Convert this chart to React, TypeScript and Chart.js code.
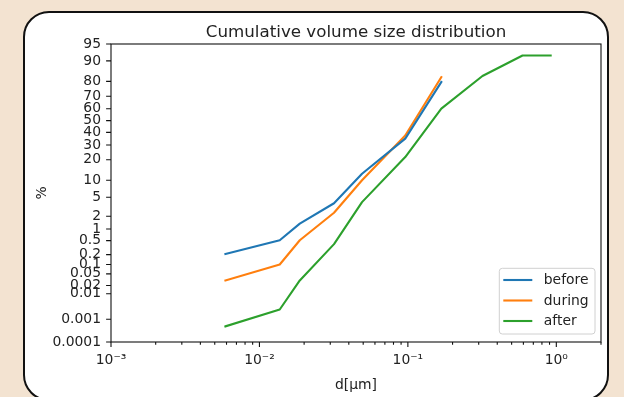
import React, { useEffect, useRef } from 'react';
import { Chart, registerables, Scale } from 'chart.js';

// ---------- data ----------
const SIZES_UM = [0.0059, 0.0137, 0.0187, 0.0318, 0.0491, 0.096, 0.168, 0.318, 0.592, 0.916];
const BEFORE = [0.21, 0.51, 1.35, 3.8, 12.7, 34.9, 79.6];
const DURING = [0.03, 0.1, 0.51, 2.4, 10.0, 37.5, 82.5];
const AFTER = [0.0005, 0.0025, 0.03, 0.4, 4.0, 21.7, 60.1, 83.1, 91.9, 91.9];
const SERIES_LABELS = ['before', 'during', 'after'];
const SERIES_COLORS = ['#1f77b4', '#ff7f0e', '#2ca02c'];

const Y_TICKS = [0.0001, 0.001, 0.01, 0.02, 0.05, 0.1, 0.2, 0.5, 1, 2, 5, 10, 20, 30, 40, 50, 60, 70, 80, 90, 95];
const X_MAJOR_TICKS = [0.001, 0.01, 0.1, 1];
const X_TICK_LABELS = ['10\u207B\u00B3', '10\u207B\u00B2', '10\u207B\u00B9', '10\u2070'];
const X_MIN = 0.001;
const X_MAX = 2;
const Y_MIN = 0.0001;
const Y_MAX = 95;

const TITLE = 'Cumulative volume size distribution';
const X_TITLE = 'd[\u03BCm]';
const Y_TITLE = '%';

// ---------- probit helpers ----------
function normInv(p: number): number {
  const a = [-3.969683028665376e1, 2.209460984245205e2, -2.759285104469687e2, 1.38357751867269e2, -3.066479806614716e1, 2.506628277459239];
  const b = [-5.447609879822406e1, 1.615858368580409e2, -1.556989798598866e2, 6.680131188771972e1, -1.328068155288572e1];
  const c = [-7.784894002430293e-3, -3.223964580411365e-1, -2.400758277161838, -2.549671348149059, 4.374664141464968, 2.938163982698783];
  const d = [7.784695709041462e-3, 3.224671290700398e-1, 2.445134137142996, 3.754408661907416];
  const pl = 0.02425;
  if (p <= 0) return -Infinity;
  if (p >= 1) return Infinity;
  if (p < pl) {
    const q = Math.sqrt(-2 * Math.log(p));
    return (((((c[0] * q + c[1]) * q + c[2]) * q + c[3]) * q + c[4]) * q + c[5]) / ((((d[0] * q + d[1]) * q + d[2]) * q + d[3]) * q + 1);
  }
  if (p <= 1 - pl) {
    const q = p - 0.5;
    const r = q * q;
    return ((((((a[0] * r + a[1]) * r + a[2]) * r + a[3]) * r + a[4]) * r + a[5]) * q) / (((((b[0] * r + b[1]) * r + b[2]) * r + b[3]) * r + b[4]) * r + 1);
  }
  const q = Math.sqrt(-2 * Math.log(1 - p));
  return -(((((c[0] * q + c[1]) * q + c[2]) * q + c[3]) * q + c[4]) * q + c[5]) / ((((d[0] * q + d[1]) * q + d[2]) * q + d[3]) * q + 1);
}
function normCdf(z: number): number {
  const t = 1 / (1 + 0.3275911 * Math.abs(z) / Math.SQRT2);
  const y = 1 - (((((1.061405429 * t - 1.453152027) * t) + 1.421413741) * t - 0.284496736) * t + 0.254829592) * t * Math.exp(-z * z / 2);
  return z >= 0 ? 0.5 * (1 + y) : 0.5 * (1 - y);
}

class ProbitScale extends Scale {
  static id = 'probit';
  static defaults = {};
  _pStart = 0;
  _pEnd = 1;
  determineDataLimits() {
    const mm = (this as any).getMinMax(true);
    const o = (this as any).options;
    (this as any).min = o.min ?? mm.min;
    (this as any).max = o.max ?? mm.max;
  }
  buildTicks() {
    return Y_TICKS.map((v) => ({ value: v }));
  }
  configure() {
    super.configure();
    this._pStart = normInv((this as any).min / 100);
    this._pEnd = normInv((this as any).max / 100);
  }
  getLabelForValue(v: number) {
    return String(v);
  }
  getPixelForValue(v: number) {
    if (v === undefined || v === null || isNaN(v)) return NaN;
    return (this as any).getPixelForDecimal((normInv(v / 100) - this._pStart) / (this._pEnd - this._pStart));
  }
  getValueForPixel(px: number) {
    const dec = (this as any).getDecimalForPixel(px);
    return 100 * normCdf(this._pStart + dec * (this._pEnd - this._pStart));
  }
}

Chart.register(...registerables, ProbitScale as any);

const FONT_FAMILY = '"DejaVu Sans", sans-serif';
const TEXT_COLOR = '#222';

function buildXTicks(): number[] {
  const out: number[] = [];
  X_MAJOR_TICKS.forEach((m) => {
    for (let k = 1; k <= 9; k++) {
      const v = parseFloat((m * k).toPrecision(6));
      if (v >= X_MIN && v <= X_MAX) out.push(v);
    }
  });
  return out;
}

function isMajorX(v: number) {
  return X_MAJOR_TICKS.some((m) => Math.abs(v / m - 1) < 1e-6);
}

const decorPlugin = {
  id: 'decor',
  afterDraw(chart: any) {
    const { ctx, chartArea: a, scales } = chart;
    ctx.save();
    // spines
    ctx.strokeStyle = '#111';
    ctx.lineWidth = 1.1;
    ctx.strokeRect(a.left, a.top, a.right - a.left, a.bottom - a.top);
    // x ticks
    const xs = scales.x;
    ctx.beginPath();
    xs.ticks.forEach((t: any) => {
      const px = xs.getPixelForValue(t.value);
      const len = isMajorX(t.value) ? 4.9 : 2.8;
      ctx.moveTo(px, a.bottom);
      ctx.lineTo(px, a.bottom + len);
    });
    // y ticks
    const ys = scales.y;
    ys.ticks.forEach((t: any) => {
      const py = ys.getPixelForValue(t.value);
      ctx.moveTo(a.left, py);
      ctx.lineTo(a.left - 4.9, py);
    });
    ctx.stroke();

    // title
    ctx.fillStyle = TEXT_COLOR;
    ctx.font = '16.7px ' + FONT_FAMILY;
    ctx.textAlign = 'center';
    ctx.textBaseline = 'alphabetic';
    ctx.fillText(TITLE, (a.left + a.right) / 2, a.top - 7.5);
    // x title
    ctx.font = '13.9px ' + FONT_FAMILY;
    ctx.fillText(X_TITLE, (a.left + a.right) / 2, a.bottom + 46.5);
    // y title
    ctx.save();
    ctx.translate(46, (a.top + a.bottom) / 2);
    ctx.rotate(-Math.PI / 2);
    ctx.fillText(Y_TITLE, 0, 0);
    ctx.restore();

    // legend
    const bx = a.right - 101.7;
    const by = a.bottom - 73.7;
    const bw = 95.7;
    const bh = 65.7;
    ctx.beginPath();
    ctx.roundRect(bx, by, bw, bh, 3);
    ctx.fillStyle = 'rgba(255,255,255,0.8)';
    ctx.fill();
    ctx.strokeStyle = '#d0d0d0';
    ctx.lineWidth = 1;
    ctx.stroke();
    chart.data.datasets.forEach((ds: any, i: number) => {
      const ly = by + 11.7 + i * 20.5;
      ctx.beginPath();
      ctx.strokeStyle = ds.borderColor;
      ctx.lineWidth = 2.1;
      ctx.moveTo(bx + 4, ly);
      ctx.lineTo(bx + 33, ly);
      ctx.stroke();
      ctx.fillStyle = TEXT_COLOR;
      ctx.font = '13.9px ' + FONT_FAMILY;
      ctx.textAlign = 'left';
      ctx.textBaseline = 'middle';
      ctx.fillText(ds.label, bx + 44.5, ly + 0.5);
    });
    ctx.restore();
  },
};

function toPoints(ys: number[]) {
  return ys.map((y, i) => ({ x: SIZES_UM[i], y }));
}

export default function App() {
  const canvasRef = useRef<HTMLCanvasElement>(null);

  useEffect(() => {
    if (!canvasRef.current) return;
    const series = [BEFORE, DURING, AFTER];
    const chart = new Chart(canvasRef.current, {
      type: 'line',
      data: {
        datasets: series.map((s, i) => ({
          label: SERIES_LABELS[i],
          data: toPoints(s),
          borderColor: SERIES_COLORS[i],
          backgroundColor: SERIES_COLORS[i],
          borderWidth: 2.1,
          pointRadius: 0,
          tension: 0,
          borderCapStyle: 'square',
          borderJoinStyle: 'round',
          fill: false,
        })),
      },
      options: {
        animation: false,
        responsive: false,
        maintainAspectRatio: false,
        events: [],
        layout: { padding: { top: 44, right: 23, left: 0, bottom: 0 } },
        plugins: {
          legend: { display: false },
          title: { display: false },
          tooltip: { enabled: false },
        },
        scales: {
          x: {
            type: 'logarithmic',
            min: X_MIN,
            max: X_MAX,
            afterBuildTicks: (s: any) => {
              s.ticks = buildXTicks().map((v) => ({ value: v, major: isMajorX(v) }));
            },
            afterFit: (s: any) => {
              s.height = 55;
            },
            grid: { display: false, drawTicks: false, tickLength: 0 },
            border: { display: false },
            ticks: {
              autoSkip: false,
              maxRotation: 0,
              minRotation: 0,
              padding: 10,
              color: TEXT_COLOR,
              font: { family: FONT_FAMILY, size: 13.9 },
              callback: (v: any) => {
                const idx = X_MAJOR_TICKS.findIndex((m) => Math.abs(Number(v) / m - 1) < 1e-6);
                return idx >= 0 ? X_TICK_LABELS[idx] : '';
              },
            },
          },
          y: {
            type: 'probit' as any,
            min: Y_MIN,
            max: Y_MAX,
            afterFit: (s: any) => {
              s.width = 111;
            },
            grid: { display: false, drawTicks: false, tickLength: 0 },
            border: { display: false },
            ticks: {
              autoSkip: false,
              padding: 10,
              color: TEXT_COLOR,
              font: { family: FONT_FAMILY, size: 13.9 },
              callback: (v: any) => String(v),
            },
          },
        },
      } as any,
      plugins: [decorPlugin],
    });
    return () => chart.destroy();
  }, []);

  return (
    <div style={{ position: 'fixed', left: 0, top: 0, width: 624, height: 397, overflow: 'hidden', background: '#f3e3d1' }}>
      <div
        style={{
          position: 'absolute',
          left: 23,
          top: 11,
          width: 586,
          height: 390,
          boxSizing: 'border-box',
          border: '2.5px solid #111',
          borderRadius: 26,
          background: '#ffffff',
        }}
      />
      <canvas ref={canvasRef} width={624} height={397} style={{ position: 'absolute', left: 0, top: 0, width: 624, height: 397 }} />
    </div>
  );
}
